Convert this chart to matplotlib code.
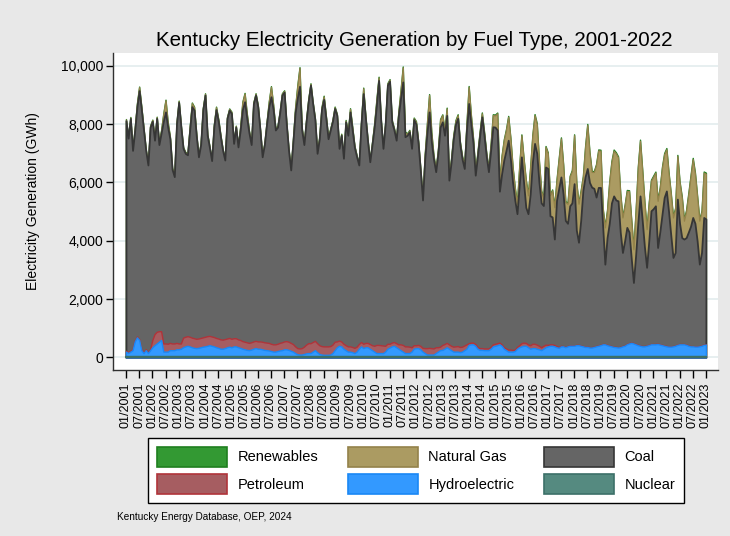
import numpy as np
import pandas as pd
import matplotlib
matplotlib.use("Agg")
import matplotlib.pyplot as plt
from matplotlib.patches import Patch

plt.rcParams['font.family'] = ['Liberation Sans', 'DejaVu Sans']

# monthly generation in GWh, 01/2001 .. 01/2023 (one line per year)
months = pd.date_range('2001-01-01', '2023-01-01', freq='MS')

hydro = [
    200, 150, 200, 250, 550, 690, 600, 250, 150, 250, 150, 250,
    350, 420, 480, 540, 600, 200, 200, 200, 250, 250, 250, 280,
    280, 300, 350, 380, 400, 380, 350, 330, 320, 330, 350, 370,
    380, 400, 420, 400, 380, 350, 330, 300, 300, 320, 350, 370,
    350, 380, 380, 350, 330, 300, 280, 260, 250, 270, 300, 320,
    300, 300, 280, 260, 250, 240, 220, 200, 200, 220, 240, 250,
    280, 280, 260, 230, 200, 150, 110, 100, 100, 120, 140, 150,
    150, 200, 250, 180, 120, 100, 90, 90, 90, 100, 150, 250,
    350, 400, 380, 300, 250, 200, 200, 180, 150, 200, 300, 380,
    320, 350, 350, 300, 250, 200, 150, 150, 150, 150, 200, 300,
    340, 380, 400, 350, 300, 250, 200, 150, 150, 150, 200, 300,
    320, 320, 280, 200, 150, 100, 100, 100, 100, 150, 200, 250,
    260, 300, 350, 300, 250, 200, 200, 200, 180, 200, 250, 300,
    430, 450, 450, 400, 300, 260, 260, 250, 250, 250, 300, 380,
    400, 420, 450, 400, 300, 250, 200, 200, 200, 220, 300, 350,
    380, 400, 400, 350, 300, 320, 320, 300, 280, 250, 300, 350,
    380, 400, 400, 380, 350, 330, 380, 380, 350, 380, 400, 400,
    400, 420, 420, 400, 380, 360, 360, 340, 340, 360, 380, 400,
    420, 450, 450, 420, 400, 380, 360, 350, 340, 350, 380, 400,
    450, 480, 500, 480, 450, 420, 400, 380, 380, 400, 420, 450,
    450, 450, 460, 440, 420, 400, 380, 370, 370, 380, 400, 430,
    450, 450, 450, 430, 400, 380, 380, 370, 370, 380, 400, 430,
    440,
]

petroleum = [
    30, 30, 30, 30, 30, 30, 30, 30, 30, 30, 30, 40,
    250, 380, 400, 360, 300, 280, 280, 270, 250, 230, 230, 220,
    200, 180, 330, 330, 330, 330, 330, 330, 320, 320, 320, 320,
    330, 330, 320, 320, 320, 320, 320, 320, 310, 310, 300, 300,
    290, 280, 280, 270, 270, 260, 260, 260, 250, 250, 250, 250,
    250, 250, 260, 260, 260, 260, 250, 250, 250, 250, 260, 270,
    270, 280, 280, 270, 260, 230, 210, 210, 220, 250, 300, 340,
    340, 330, 320, 310, 300, 290, 290, 290, 290, 290, 290, 290,
    200, 180, 170, 170, 170, 180, 180, 180, 180, 170, 160, 150,
    150, 150, 150, 160, 170, 200, 280, 280, 270, 260, 200, 170,
    130, 130, 130, 140, 150, 200, 230, 230, 230, 220, 150, 120,
    100, 110, 120, 130, 170, 220, 230, 220, 210, 200, 150, 120,
    170, 160, 150, 150, 150, 170, 180, 190, 180, 170, 160, 150,
    60, 60, 60, 60, 60, 60, 60, 60, 60, 60, 60, 70,
    70, 70, 60, 50, 50, 60, 70, 70, 60, 50, 60, 70,
    110, 110, 100, 100, 120, 150, 150, 140, 120, 100, 100, 90,
    50, 50, 50, 50, 40, 30, 20, 10, 10, 10, 10, 10,
    10, 10, 10, 10, 10, 10, 10, 10, 10, 10, 10, 10,
    10, 10, 10, 10, 10, 10, 10, 10, 10, 10, 10, 10,
    10, 10, 10, 10, 10, 10, 10, 10, 10, 10, 10, 10,
    10, 10, 10, 10, 10, 10, 10, 10, 10, 10, 10, 10,
    10, 10, 10, 10, 10, 10, 10, 10, 10, 10, 10, 10,
    10,
]

coal = [
    7890, 7340, 7970, 6820, 7220, 7880, 8520, 8220, 7620, 6820, 6420, 7610,
    7500, 6650, 7320, 6400, 6800, 7620, 7940, 7430, 7000, 5970, 5720, 7500,
    8270, 7420, 6490, 6290, 6220, 7090, 7920, 7820, 6960, 6230, 6630, 7810,
    8290, 6890, 6460, 6030, 7200, 7830, 7450, 6950, 6490, 6140, 7550, 7810,
    7730, 6680, 7240, 6600, 7200, 7940, 8230, 7680, 7200, 6780, 8150, 8430,
    8050, 7250, 6340, 6780, 7490, 8100, 8470, 8050, 7350, 7430, 7900, 8480,
    8550, 7440, 6560, 5930, 6940, 8020, 8580, 8990, 7480, 6930, 7660, 8310,
    8850, 8170, 7580, 6510, 7080, 8110, 8470, 7820, 7120, 7410, 7660, 8000,
    7750, 6590, 7070, 6360, 7660, 7240, 8040, 7440, 6870, 6510, 6140, 7470,
    8580, 7700, 6900, 6250, 6880, 7500, 8220, 9070, 7680, 6760, 7600, 8870,
    9000, 7570, 7270, 6960, 7850, 8450, 9020, 7190, 7240, 7370, 6820, 7740,
    7580, 6910, 6000, 5070, 6480, 7380, 8090, 7080, 6490, 6020, 6650, 7530,
    7650, 7160, 7800, 5630, 6300, 7130, 7620, 7810, 6940, 6430, 6070, 7350,
    8220, 7490, 6830, 5790, 6540, 7280, 7930, 7290, 6590, 6060, 6740, 7460,
    7430, 7310, 5190, 5850, 6420, 6790, 7180, 6530, 5740, 5130, 4570, 5480,
    6390, 5490, 4650, 4480, 5180, 6230, 6870, 6560, 5600, 4950, 4810, 6090,
    6050, 4410, 4370, 3630, 5000, 5440, 5790, 5210, 4340, 4210, 4790, 4890,
    5550, 3940, 3520, 4290, 5340, 5830, 6110, 5650, 5490, 5430, 5110, 5420,
    5400, 4040, 2740, 3680, 4190, 4910, 5170, 5040, 5020, 3940, 3210, 3590,
    4000, 3810, 2890, 2080, 3040, 4170, 5130, 4310, 3410, 2680, 3570, 4570,
    4640, 4740, 3300, 3850, 4470, 5080, 5320, 4620, 3820, 3040, 3190, 4990,
    4140, 3650, 3600, 3670, 3890, 4110, 4410, 4220, 3620, 2810, 3190, 4360,
    4300,
]

natural_gas = [
    40, 30, 30, 40, 60, 100, 120, 80, 40, 30, 30, 40,
    40, 40, 40, 50, 80, 250, 400, 150, 60, 40, 40, 40,
    40, 40, 30, 30, 40, 80, 120, 100, 40, 30, 30, 40,
    40, 30, 30, 30, 60, 80, 60, 40, 30, 30, 30, 40,
    40, 30, 30, 30, 100, 250, 280, 150, 50, 30, 30, 40,
    40, 30, 30, 30, 50, 150, 340, 150, 40, 30, 30, 40,
    40, 30, 30, 30, 50, 150, 400, 630, 60, 30, 30, 40,
    40, 30, 30, 30, 40, 60, 100, 60, 30, 30, 30, 40,
    30, 30, 30, 30, 40, 60, 100, 80, 40, 30, 30, 40,
    180, 40, 30, 30, 50, 100, 170, 100, 40, 30, 30, 40,
    50, 40, 40, 40, 100, 250, 500, 150, 40, 40, 40, 40,
    80, 60, 60, 80, 150, 300, 580, 300, 100, 80, 100, 250,
    230, 150, 240, 100, 100, 100, 110, 110, 80, 80, 100, 200,
    570, 300, 150, 100, 120, 120, 120, 120, 100, 100, 200, 400,
    400, 570, 300, 600, 680, 700, 800, 700, 500, 400, 340, 600,
    740, 800, 920, 630, 900, 900, 970, 1000, 700, 400, 230, 690,
    520, 700, 910, 1090, 680, 1000, 1320, 1000, 630, 670, 1000, 1100,
    1660, 1600, 1320, 1000, 460, 1000, 1490, 1000, 520, 560, 1100, 1270,
    1260, 600, 1260, 920, 1400, 1400, 1550, 1600, 1490, 1300, 1200, 1200,
    1250, 1400, 1300, 1140, 1500, 1900, 1890, 1700, 1500, 1310, 1300, 1030,
    1100, 1140, 1600, 1500, 1600, 1480, 1430, 1300, 1400, 1370, 1500, 1480,
    1400, 1380, 630, 920, 1300, 1700, 2000, 1700, 1500, 1490, 1400, 1540,
    1550,
]

renewables = [
    15, 14, 16, 15, 17, 18, 19, 18, 16, 15, 14, 15,
    16, 15, 16, 17, 18, 19, 20, 19, 17, 16, 15, 16,
    17, 16, 17, 18, 19, 20, 21, 20, 18, 17, 16, 17,
    18, 17, 18, 19, 20, 21, 22, 21, 19, 18, 17, 18,
    18, 17, 18, 19, 20, 22, 22, 21, 19, 18, 18, 19,
    19, 18, 19, 20, 21, 22, 23, 22, 20, 19, 19, 20,
    20, 19, 20, 21, 22, 23, 24, 23, 21, 20, 20, 21,
    21, 20, 21, 22, 23, 24, 25, 24, 22, 21, 21, 22,
    22, 21, 22, 23, 24, 25, 26, 25, 23, 22, 22, 23,
    23, 22, 23, 24, 25, 26, 27, 26, 24, 23, 23, 24,
    24, 23, 24, 25, 26, 27, 28, 27, 25, 24, 24, 25,
    25, 24, 25, 26, 27, 28, 29, 28, 26, 25, 25, 26,
    26, 25, 26, 27, 28, 29, 30, 29, 27, 26, 26, 27,
    27, 26, 27, 28, 29, 30, 31, 30, 28, 27, 27, 28,
    28, 27, 28, 29, 30, 31, 32, 31, 29, 28, 28, 29,
    29, 28, 29, 31, 32, 33, 34, 33, 31, 29, 29, 30,
    30, 29, 31, 33, 34, 35, 36, 35, 33, 31, 30, 31,
    31, 30, 32, 34, 35, 36, 37, 36, 34, 32, 31, 32,
    32, 31, 33, 35, 36, 37, 38, 37, 35, 33, 32, 33,
    33, 32, 34, 36, 37, 38, 39, 38, 36, 34, 33, 34,
    34, 33, 35, 37, 38, 40, 41, 40, 37, 35, 34, 35,
    35, 34, 36, 38, 40, 42, 43, 42, 39, 36, 35, 36,
    36,
]

nuclear = [0] * len(months)

# stacking order, bottom to top
names = ['Nuclear', 'Hydroelectric', 'Petroleum', 'Coal', 'Natural Gas', 'Renewables']
series = [nuclear, hydro, petroleum, coal, natural_gas, renewables]
fills = ['#558a80', '#3399ff', '#a65d61', '#656565', '#ab9b62', '#339933']
edges = ['#3c7068', '#1a88f5', '#b0343a', '#363636', '#94824a', '#1f7f1f']
widths = [1.6, 1.0, 1.0, 1.3, 0.9, 1.0]

x = np.arange(len(months))
cum = np.cumsum(np.array(series, dtype=float), axis=0)

fig = plt.figure(figsize=(7.3, 5.36), dpi=100, facecolor='#e8e8e8')
ax = fig.add_axes([113/730, 1-370/536, (718-113)/730, (370-53)/536])
ax.set_facecolor('white')

# Stata style: each cumulative area from 0, drawn largest first
for i in reversed(range(len(series))):
    ax.fill_between(x, 0, cum[i], facecolor=fills[i], edgecolor=edges[i],
                    linewidth=widths[i], zorder=2)

ax.set_xlim(-5.9, 269.5)
ax.set_ylim(-430, 10440)

ax.set_yticks(range(0, 10001, 2000))
ax.set_yticklabels([f'{v:,}' for v in range(0, 10001, 2000)])
ax.grid(axis='y', color='#e3ecee', linewidth=1.2, zorder=0)
ax.set_axisbelow(True)

xt = x[::6]
ax.set_xticks(xt)
ax.set_xticklabels(months[::6].strftime('%m/%Y'), rotation=90)

for s in ['top', 'right']:
    ax.spines[s].set_visible(False)
for s in ['left', 'bottom']:
    ax.spines[s].set_color('#303030')
    ax.spines[s].set_linewidth(1.0)

ax.tick_params(axis='y', length=5, width=1, labelsize=10, pad=2)
ax.tick_params(axis='x', length=6, width=1, labelsize=9, pad=3)

fig.text(0.568, 0.925, 'Kentucky Electricity Generation by Fuel Type, 2001-2022',
         ha='center', va='center', fontsize=14.8)
fig.text(33/730, 1-201/536, 'Electricity Generation (GWh)', rotation=90,
         ha='center', va='center', fontsize=10)
fig.text(117/730, 1-517/536, 'Kentucky Energy Database, OEP, 2024',
         ha='left', va='center', fontsize=7.2)

# legend, column-major order for ncol=3
order = ['Renewables', 'Petroleum', 'Natural Gas', 'Hydroelectric', 'Coal', 'Nuclear']
handles = []
for nm in order:
    k = names.index(nm)
    handles.append(Patch(facecolor=fills[k], edgecolor=edges[k], linewidth=1.2, label=nm))
leg = fig.legend(handles=handles, ncol=3, loc='upper center',
                 bbox_to_anchor=(416/730, 1-438/536), fontsize=10.5,
                 handlelength=4.8, handleheight=1.73, handletextpad=0.75,
                 columnspacing=2.0, labelspacing=0.53, borderpad=0.6,
                 borderaxespad=0, fancybox=False, edgecolor='black',
                 facecolor='white', framealpha=1)
leg.get_frame().set_linewidth(1.0)

fig.savefig('out.png', dpi=100, facecolor=fig.get_facecolor())
